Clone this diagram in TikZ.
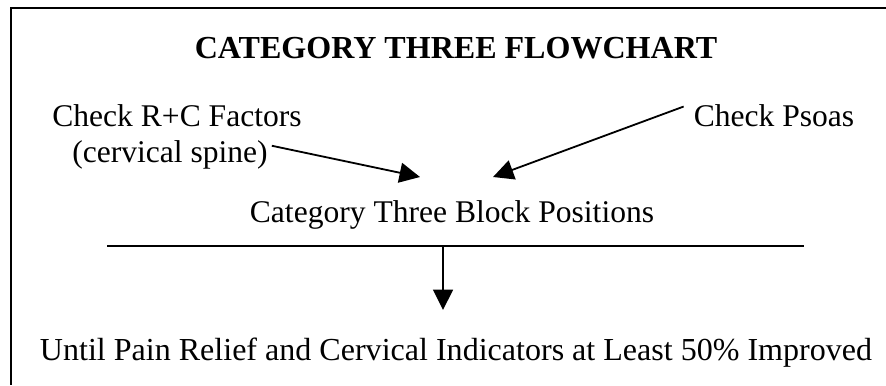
\documentclass[tikz,border=0pt]{standalone}
\usepackage{fontspec}
\setmainfont{Liberation Serif}
\usetikzlibrary{arrows.meta}

\begin{document}
\begin{tikzpicture}[x=0.415pt, y=-0.415pt,
	txt/.style={anchor=base, inner sep=0pt, font=\fontsize{13.1}{15}\selectfont},
	arr/.style={line width=0.75pt, -{Triangle[length=8.5pt, width=8.3pt]}}]
	\useasboundingbox (0,0) rectangle (886,385);
	% frame, open at the right and bottom
	\draw[line width=0.9pt] (886,8) -- (11,8) -- (11,385);
	% texts
	\node[txt, font=\fontsize{13.3}{15}\selectfont\bfseries] (title) at (456,58) {CATEGORY THREE FLOWCHART};
	\node[txt] (rc) at (177,126) {Check R+C Factors};
	\node[txt] (spine) at (170,162) {(cervical spine)};
	\node[txt] (psoas) at (774,126) {Check Psoas};
	\node[txt] (block) at (452,222) {Category Three Block Positions};
	\node[txt, font=\fontsize{13.3}{15}\selectfont] (until) at (456,360) {Until Pain Relief and Cervical Indicators at Least 50\% Improved};
	% arrows
	\coordinate (tipL) at (420,177);
	\coordinate (tipR) at (493,177);
	\draw[arr] ([xshift=1.5pt,yshift=3.6pt]spine.east) -- (tipL);
	\draw[arr] ([xshift=-4pt,yshift=3.6pt]psoas.west) -- (tipR);
	% bar and down arrow
	\coordinate (barL) at (107,246);
	\coordinate (barR) at (804,246);
	\coordinate (split) at (443,246);
	\coordinate (tipD) at (443,310);
	\draw[line width=0.75pt] (barL) -- (barR);
	\draw[arr] (split) -- (tipD);
\end{tikzpicture}
\end{document}
